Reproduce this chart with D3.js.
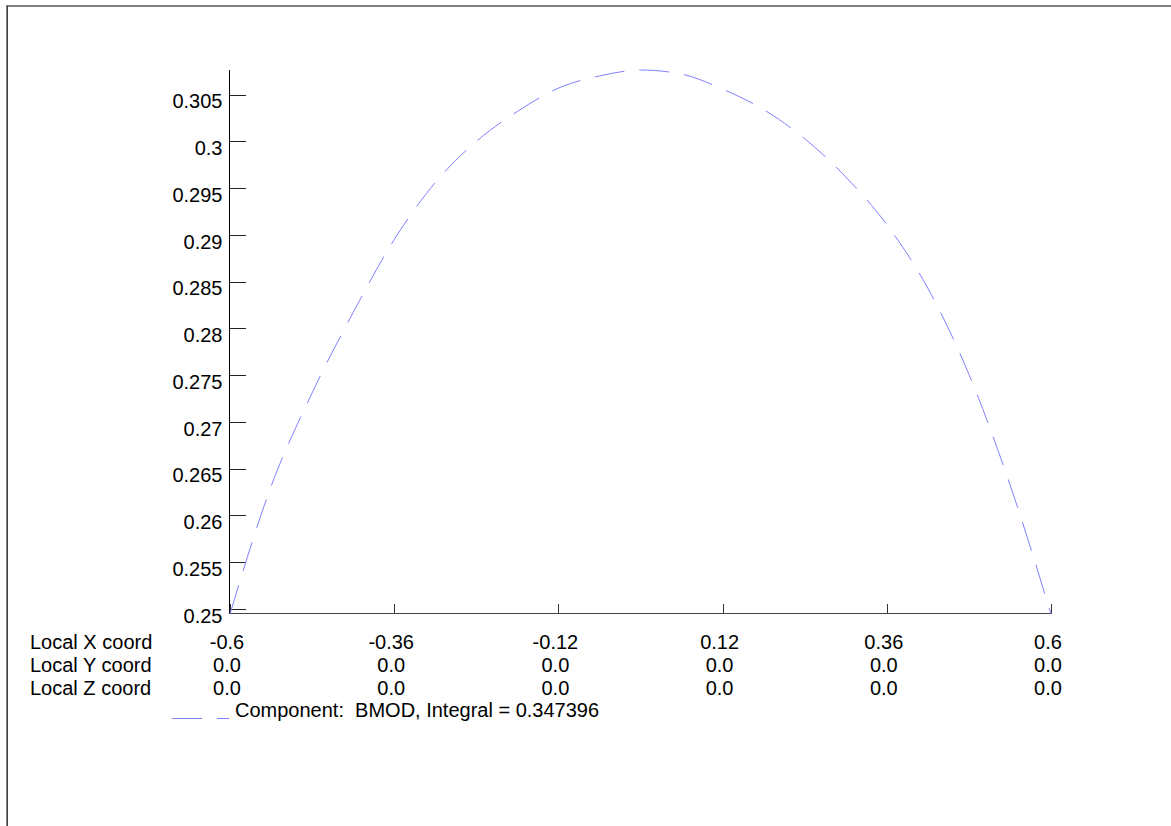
<!DOCTYPE html>
<html>
<head>
<meta charset="utf-8">
<script src="https://cdn.jsdelivr.net/npm/d3@7"></script>
<style>
  html, body { margin: 0; padding: 0; background: #fff; }
  svg { display: block; }
  text { font-family: "Liberation Sans", Arial, Helvetica, sans-serif; fill: #000; }
</style>
</head>
<body>
<svg id="chart" width="1171" height="826"></svg>
<script>
// ---- data ----
const xCoords = [-0.6, -0.54, -0.48, -0.42, -0.36, -0.30, -0.24, -0.18, -0.12, -0.06, 0.0,
                 0.06, 0.12, 0.18, 0.24, 0.30, 0.36, 0.42, 0.48, 0.54, 0.6];
const bmod = [0.24946, 0.2631, 0.2731, 0.2817, 0.2895, 0.2956, 0.3000, 0.3032, 0.3057, 0.3070, 0.30764,
              0.3072, 0.3056, 0.3034, 0.3003, 0.2962, 0.2911, 0.2843, 0.2751, 0.2633, 0.24946];
const xTicks = [-0.6, -0.36, -0.12, 0.12, 0.36, 0.6];
const xTickLabels = ["-0.6", "-0.36", "-0.12", "0.12", "0.36", "0.6"];
const localYLabels = ["0.0", "0.0", "0.0", "0.0", "0.0", "0.0"];
const localZLabels = ["0.0", "0.0", "0.0", "0.0", "0.0", "0.0"];
const rowNames = ["Local X coord", "Local Y coord", "Local Z coord"];
const yTicks = [0.25, 0.255, 0.26, 0.265, 0.27, 0.275, 0.28, 0.285, 0.29, 0.295, 0.3, 0.305];
const yTickLabels = ["0.25", "0.255", "0.26", "0.265", "0.27", "0.275", "0.28", "0.285", "0.29", "0.295", "0.3", "0.305"];
const legendText = "Component:  BMOD, Integral = 0.347396";

// ---- layout ----
const svg = d3.select("#chart");
const plotLeft = 230, plotRight = 1051, plotTop = 70, plotBottom = 614;
const lineColor = "#8080ff";
const fontSize = 20;

// frame
svg.append("rect").attr("x", 6).attr("y", 5).attr("width", 1165).attr("height", 2).attr("fill", "#808080");
svg.append("rect").attr("x", 6).attr("y", 5).attr("width", 1).attr("height", 821).attr("fill", "#808080");
svg.append("rect").attr("x", 7).attr("y", 6).attr("width", 1).attr("height", 820).attr("fill", "#404040");

const x = d3.scaleLinear().domain([xTicks[0], xTicks[xTicks.length - 1]]).range([plotLeft, plotRight]);
const y = d3.scaleLinear().domain(d3.extent(bmod)).range([plotBottom, plotTop]);

// y axis (ticks pointing right, labels left)
const yAxis = d3.axisLeft(y).tickValues(yTicks).tickSize(-16).tickPadding(7)
  .tickFormat((d, i) => yTickLabels[i]);
const gy = svg.append("g").attr("transform", `translate(${plotLeft - 0.5},0)`).call(yAxis);
gy.select(".domain").remove();
gy.selectAll(".tick line").attr("stroke", "#222").attr("shape-rendering", "crispEdges");
gy.selectAll(".tick text").attr("font-size", fontSize).attr("font-family", null)
  .attr("dy", "0.66em").attr("fill", "#000");
svg.append("line").attr("x1", plotLeft - 0.5).attr("x2", plotLeft - 0.5).attr("y1", plotTop).attr("y2", plotBottom)
  .attr("stroke", "#000").attr("shape-rendering", "crispEdges");

// x axis (ticks pointing up)
const xAxis = d3.axisBottom(x).tickValues(xTicks).tickSize(-10).tickFormat("");
const gx = svg.append("g").attr("transform", `translate(0,${plotBottom - 0.5})`).call(xAxis);
gx.select(".domain").remove();
gx.selectAll(".tick line").attr("stroke", "#333").attr("shape-rendering", "crispEdges");
svg.append("line").attr("x1", plotLeft - 0.5).attr("x2", plotRight + 0.5).attr("y1", plotBottom - 0.5).attr("y2", plotBottom - 0.5)
  .attr("stroke", "#444").attr("shape-rendering", "crispEdges");

// table of coordinates under the axis
const rowBase = [649, 672, 695];
const rows = [xTickLabels, localYLabels, localZLabels];
rowNames.forEach((name, r) => {
  svg.append("text").attr("x", 30).attr("y", rowBase[r]).attr("font-size", fontSize).text(name);
  svg.selectAll(null).data(xTicks).enter().append("text")
    .attr("x", d => x(d) - 3).attr("y", rowBase[r])
    .attr("text-anchor", "middle").attr("font-size", fontSize)
    .text((d, i) => rows[r][i]);
});

// curve
const line = d3.line().x((d, i) => x(xCoords[i])).y(d => y(d)).curve(d3.curveMonotoneX);
svg.append("path").datum(bmod).attr("d", line)
  .attr("fill", "none").attr("stroke", lineColor).attr("stroke-width", 1)
  .attr("stroke-dasharray", "30,15");

// legend
svg.append("line").attr("x1", 172).attr("x2", 229).attr("y1", 718.5).attr("y2", 718.5)
  .attr("stroke", lineColor).attr("stroke-width", 1).attr("stroke-dasharray", "30,15");
svg.append("text").attr("x", 235).attr("y", 717).attr("font-size", fontSize)
  .attr("xml:space", "preserve").style("white-space", "pre").text(legendText);
</script>
</body>
</html>
